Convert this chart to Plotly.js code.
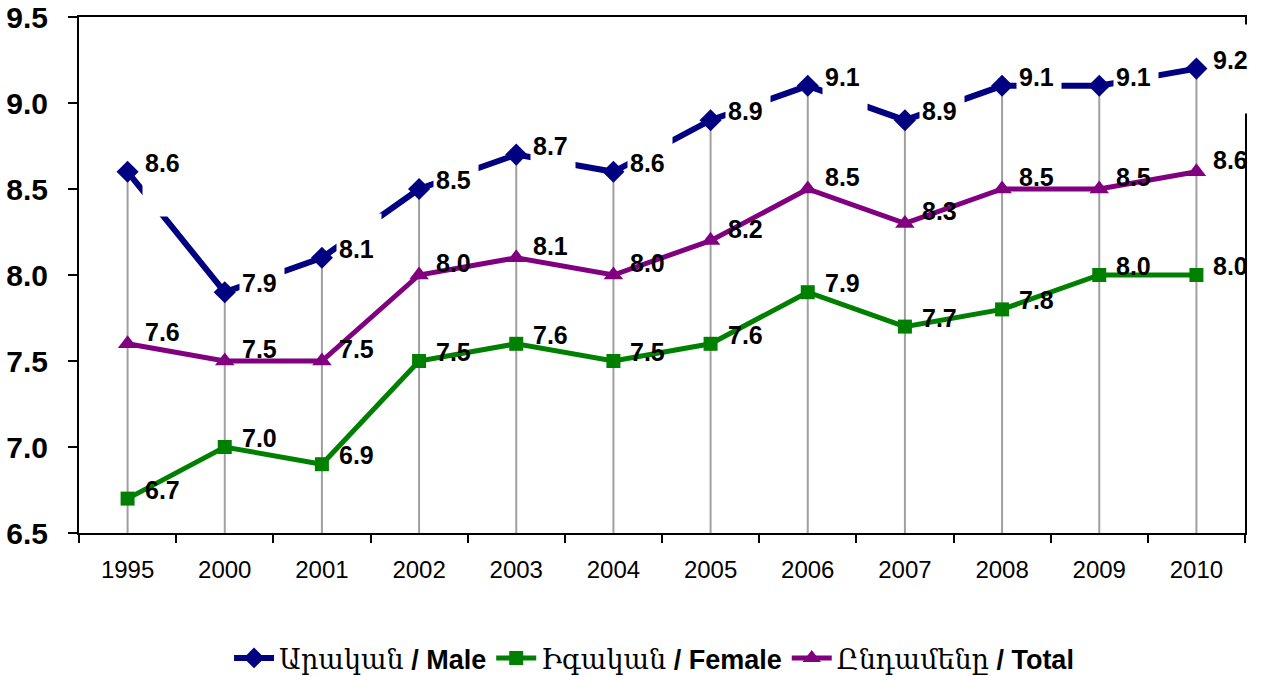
<!DOCTYPE html>
<html>
<head>
<meta charset="utf-8">
<script src="https://cdn.plot.ly/plotly-3.0.1.min.js"></script>
<style>
  body { margin: 0; background: #fff; }
  #chart { width: 1270px; height: 676px; }
</style>
</head>
<body>
<div id="chart"></div>
<script>
// years on the x axis
var years = ['1995', '2000', '2001', '2002', '2003', '2004', '2005', '2006', '2007', '2008', '2009', '2010']

// values per series
var male   = [8.6, 7.9, 8.1, 8.5, 8.7, 8.6, 8.9, 9.1, 8.9, 9.1, 9.1, 9.2]
var female = [6.7, 7.0, 6.9, 7.5, 7.6, 7.5, 7.6, 7.9, 7.7, 7.8, 8.0, 8.0]
var total  = [7.6, 7.5, 7.5, 8.0, 8.1, 8.0, 8.2, 8.5, 8.3, 8.5, 8.5, 8.6]

var maleName   = '<span style="font-weight:normal;font-family:\'DejaVu Serif\'">Արական</span> / Male'
var femaleName = '<span style="font-weight:normal;font-family:\'DejaVu Serif\'">Իգական</span> / Female'
var totalName  = '<span style="font-weight:normal;font-family:\'DejaVu Serif\'">Ընդամենը</span> / Total'

var yMin = 6.5
var yMax = 9.5

// gray drop lines from the top series down to the axis
var dropX = []
var dropY = []
years.forEach(function (yr, i) {
  dropX.push(yr, yr, null)
  dropY.push(yMin, male[i], null)
})

var data = [
  {x: dropX, y: dropY, mode: 'lines', line: {color: '#a0a0a0', width: 2},
   hoverinfo: 'skip', showlegend: false},

  {x: years, y: male, mode: 'lines+markers', name: maleName,
   line: {color: '#000080', width: 6},
   marker: {symbol: 'diamond', size: 17, color: '#000080'}},

  {x: years, y: female, mode: 'lines+markers', name: femaleName,
   line: {color: '#008000', width: 5},
   marker: {symbol: 'square', size: 14, color: '#008000'}},

  {x: years, y: total, mode: 'lines+markers', name: totalName,
   line: {color: '#800080', width: 5},
   marker: {symbol: 'triangle-up', size: 17, color: '#800080'}}
]

var labelFont = {family: 'Arial, Liberation Sans, sans-serif', size: 25, color: '#000'}
var annotations = []

// male labels sit on a tall white box that cuts the line
// (annotation x is the category index: numeric-looking names would be read as indexes)
years.forEach(function (yr, i) {
  annotations.push({x: i, y: male[i], xref: 'x', yref: 'y', text: male[i].toFixed(1),
    showarrow: false, xanchor: 'left', yanchor: 'middle', xshift: 14, yshift: 0,
    width: 44, height: 88, bgcolor: '#fff', borderpad: 0,
    font: {family: labelFont.family, size: 25, color: 'rgba(0,0,0,0)'}})
})

function addLabels(vals, shiftUp) {
  years.forEach(function (yr, i) {
    annotations.push({x: i, y: vals[i], xref: 'x', yref: 'y', text: '<b>' + vals[i].toFixed(1) + '</b>',
      showarrow: false, xanchor: 'left', yanchor: 'middle', xshift: 16, yshift: shiftUp,
      borderpad: 0, font: labelFont})
  })
}
addLabels(male, 9)
addLabels(female, 9)
addLabels(total, 12)

var layout = {
  width: 1270,
  height: 676,
  margin: {l: 79, r: 25, t: 17, b: 143},
  paper_bgcolor: '#fff',
  plot_bgcolor: '#fff',
  showlegend: true,
  legend: {orientation: 'h', xref: 'container', yref: 'container',
    x: 0.515, xanchor: 'center', y: 0.026, yanchor: 'middle',
    font: {family: 'Arial, Liberation Sans, sans-serif', size: 27, color: '#000', weight: 'bold'},
    itemwidth: 40, tracegroupgap: 0},
  xaxis: {
    type: 'category', range: [-0.5, years.length - 0.5], automargin: false,
    showline: true, linecolor: '#000', linewidth: 2, mirror: true,
    ticks: 'outside', tickson: 'boundaries', ticklen: 8, tickwidth: 2, tickcolor: '#000',
    showgrid: false, zeroline: false,
    ticklabelstandoff: 14,
    tickfont: {family: 'Arial, Liberation Sans, sans-serif', size: 24, color: '#000'}
  },
  yaxis: {
    range: [yMin, yMax], dtick: 0.5, tickformat: '.1f', automargin: false,
    showline: true, linecolor: '#000', linewidth: 2, mirror: true,
    ticks: 'outside', ticklen: 9, tickwidth: 2, tickcolor: '#000',
    showgrid: false, zeroline: false,
    ticklabelstandoff: 14,
    tickfont: {family: 'Arial, Liberation Sans, sans-serif', size: 30, color: '#000', weight: 'bold'}
  },
  annotations: annotations
}

Plotly.newPlot('chart', data, layout, {displayModeBar: false, staticPlot: true})
</script>
</body>
</html>
